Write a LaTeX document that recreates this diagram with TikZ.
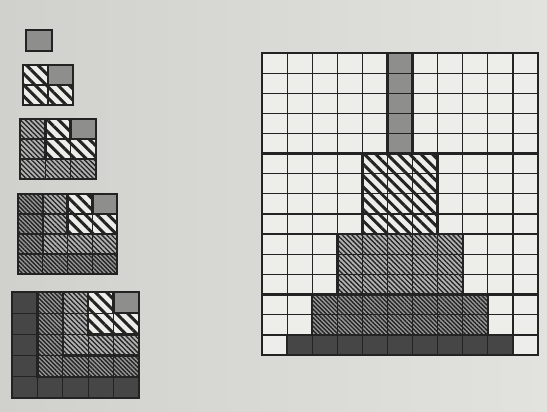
\documentclass[tikz,border=0pt]{standalone}
\usetikzlibrary{patterns.meta}
\definecolor{paperdark}{RGB}{208,208,205}
\definecolor{paperlight}{RGB}{226,226,223}
\definecolor{cellwhite}{RGB}{237,237,234}
\definecolor{ink}{RGB}{35,35,35}
\definecolor{unitgray}{RGB}{142,142,140}
\definecolor{darkfill}{RGB}{70,70,70}
\tikzstyle{cell} = [draw=ink, line width=1.1pt]
\tikzstyle{bold} = [draw=ink, line width=2.5pt, line cap=rect]
\tikzstyle{lvl1} = [fill=unitgray]
\tikzstyle{lvl2} = [preaction={fill=cellwhite}, pattern={Lines[angle=-45,distance=8pt,line width=3pt]}, pattern color=ink]
\tikzstyle{lvl3} = [preaction={fill=black!30}, pattern={Lines[angle=-45,distance=3.4pt,line width=1.3pt]}, pattern color=ink]
\tikzstyle{lvl4} = [preaction={fill=black!40}, pattern={Lines[angle=-45,distance=3pt,line width=1.4pt]}, pattern color=ink]
\tikzstyle{lvl5} = [fill=darkfill]
% square of side n built from gnomons: x, y, n, cell width, cell height
\newcommand{\gnomonsquare}[5]{%
  \begin{scope}[shift={(#1,#2)}, x=#4pt, y=-#5pt]
    \foreach \k in {#3,...,1}
      \fill[lvl\k] ({#3-\k},0) rectangle (#3,\k);
    \ifnum#3>1
      \foreach \i in {1,...,\numexpr#3-1\relax} {
        \draw[cell] (\i,0) -- (\i,#3);
        \draw[cell] (0,\i) -- (#3,\i);
        \draw[bold] ({#3-\i},0) |- (#3,\i);
      }
    \fi
    \draw[bold] (0,0) rectangle (#3,#3);
  \end{scope}}
\begin{document}
\begin{tikzpicture}[x=1pt, y=-1pt]
    % Page
    \useasboundingbox (0,0) rectangle (547,412);
    \shade[left color=paperdark, right color=paperlight] (0,0) rectangle (547,412);

    % Left column of squares
    \gnomonsquare{26}{30}{1}{26}{21}
    \gnomonsquare{23}{65}{2}{25}{20}
    \gnomonsquare{20}{119}{3}{25.3}{20}
    \gnomonsquare{18}{194}{4}{24.8}{20}
    \gnomonsquare{12}{292}{5}{25.4}{21.2}

    % Big grid
    \begin{scope}[shift={(262,53)}, x=25.1pt, y=-20.13pt]
        \fill[cellwhite] (0,0) rectangle (11,15);
        \foreach \k/\t in {1/0, 2/5, 3/9, 4/12, 5/14}
            \fill[lvl\k] ({6-\k},\t) rectangle ({5+\k},{\t+6-\k});
        \foreach \i in {1,...,10}
            \draw[cell] (\i,0) -- (\i,15);
        \foreach \j in {1,...,14}
            \draw[cell] (0,\j) -- (11,\j);
        \foreach \j in {5, 9, 12, 14}
            \draw[bold] (0,\j) -- (11,\j);
        \foreach \k/\t in {1/0, 2/5, 3/9, 4/12, 5/14}
            \draw[bold] ({6-\k},\t) rectangle ({5+\k},{\t+6-\k});
        \draw[bold] (0,0) rectangle (11,15);
    \end{scope}
\end{tikzpicture}
\end{document}
